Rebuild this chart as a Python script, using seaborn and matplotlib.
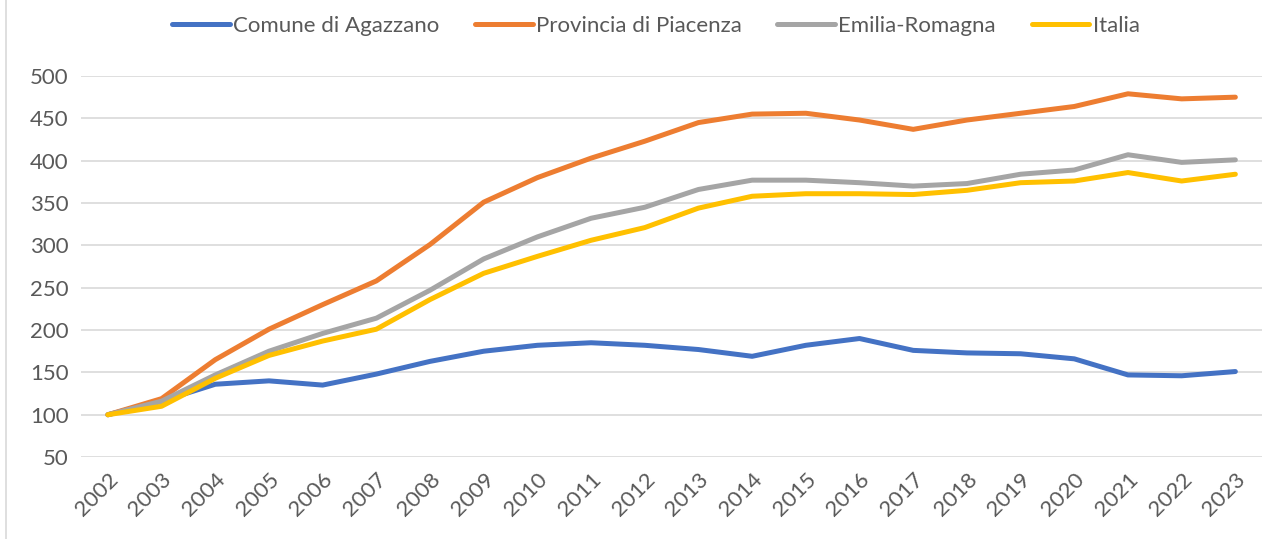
import numpy as np
import pandas as pd
import matplotlib
matplotlib.use("Agg")
import matplotlib.pyplot as plt
from matplotlib.lines import Line2D
import seaborn as sns

years = list(range(2002, 2024))
agazzano = [100, 116, 136, 140, 135, 148, 163, 175, 182, 185, 182, 177,
            169, 182, 190, 176, 173, 172, 166, 147, 146, 151]
piacenza = [100, 119, 165, 201, 230, 258, 301, 351, 380, 403, 423, 445,
            455, 456, 448, 437, 448, 456, 464, 479, 473, 475]
emilia = [100, 116, 147, 175, 196, 214, 247, 284, 310, 332, 345, 366,
          377, 377, 374, 370, 373, 384, 389, 407, 398, 401]
italia = [100, 110, 143, 170, 187, 201, 236, 267, 287, 306, 321, 344,
          358, 361, 361, 360, 365, 374, 376, 386, 376, 384]

series_names = ["Comune di Agazzano", "Provincia di Piacenza", "Emilia-Romagna", "Italia"]
colors = ["#4472C4", "#ED7D31", "#A5A5A5", "#FFC000"]
y_ticks = [50, 100, 150, 200, 250, 300, 350, 400, 450, 500]

df = pd.DataFrame({
    "anno": [str(y) for y in years] * 4,
    "valore": agazzano + piacenza + emilia + italia,
    "serie": np.repeat(series_names, len(years)),
})

sns.set_theme(style="white")
plt.rcParams["font.family"] = ["Lato", "DejaVu Sans"]

fig = plt.figure(figsize=(12.66, 5.39), dpi=100)
ax = fig.add_axes([0.064, 0.152, 0.933, 0.707])

sns.lineplot(data=df, x="anno", y="valore", hue="serie", hue_order=series_names,
             palette=colors, linewidth=3.6, sort=False, ax=ax,
             solid_capstyle="round", solid_joinstyle="round")

ax.set_xlim(-0.5, len(years) - 0.5)
ax.set_ylim(50, 500)
ax.set_yticks(y_ticks)
ax.set_xlabel(""); ax.set_ylabel("")
ax.grid(axis="y", color="#D9D9D9", linewidth=1.2)
ax.set_axisbelow(True)
for s in ax.spines.values():
    s.set_visible(False)

ax.tick_params(axis="y", labelsize=16, colors="#595959", length=0, pad=9)
ax.tick_params(axis="x", labelsize=16, colors="#595959", length=0, pad=9)
for lab in ax.get_xticklabels():
    lab.set_rotation(45)
    lab.set_ha("right")
    lab.set_rotation_mode("anchor")

ax.legend(loc="center", bbox_to_anchor=(0.518, 0.952), bbox_transform=fig.transFigure,
          ncol=4, frameon=False, fontsize=16, handlelength=2.6,
          handletextpad=0.15, columnspacing=1.6, labelcolor="#595959")

# left edge of the chart frame
fig.add_artist(Line2D([0.005, 0.005], [0, 1], transform=fig.transFigure,
                      color="#D9D9D9", linewidth=1.2))

fig.savefig("out.png", dpi=100)
